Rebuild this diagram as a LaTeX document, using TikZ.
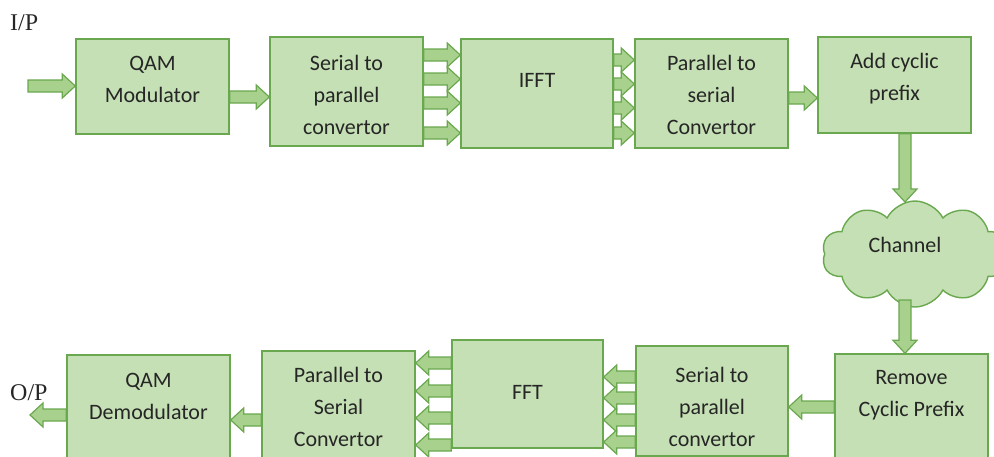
\documentclass[tikz,border=0pt]{standalone}
\usepackage{fontspec}
\setmainfont{Carlito}
\newfontfamily\iofont{Liberation Serif}
\usetikzlibrary{calc,shapes.symbols}
\definecolor{boxfill}{HTML}{C5E0B4}
\definecolor{boxline}{HTML}{6AA84F}
\definecolor{arrfill}{HTML}{A9D18E}
\definecolor{arrline}{HTML}{6AA84F}
\tikzset{
  blk/.style={draw=boxline, fill=boxfill, line width=1.4pt, inner sep=0pt},
  lbl/.style={font=\fontsize{22}{32}\selectfont, align=center, text=black!85, inner sep=0pt},
  iolbl/.style={font=\iofont\fontsize{24}{26}\selectfont, text=black!85, inner sep=0pt, anchor=base west},
  arr/.style={draw=arrline, fill=arrfill, line width=1.2pt, line join=miter},
}
% block arrow from #1 to #2: shaft 12pt wide, head 24pt wide, 13pt long
\newcommand\blockarrow[2]{%
  \path (#1) coordinate (bS) (#2) coordinate (bE);
  \path ($(bE)!13pt!(bS)$) coordinate (bH);
  \draw[arr] ($(bS)!6pt!90:(bE)$) -- ($(bH)!6pt!90:(bE)$) -- ($(bH)!12pt!90:(bE)$)
    -- (bE) -- ($(bH)!12pt!-90:(bE)$) -- ($(bH)!6pt!-90:(bE)$) -- ($(bS)!6pt!-90:(bE)$) -- cycle;}
\begin{document}
\begin{tikzpicture}[x=1pt, y=-1pt]
\useasboundingbox (0,0) rectangle (994,456);
\clip (0,0) rectangle (994,456);

% transmitter chain
\node[blk, minimum width=153pt, minimum height=95pt]  (qam)  at (152.5,86.5) {};
\node[blk, minimum width=153pt, minimum height=109pt] (s2p)  at (346.5,91.5) {};
\node[blk, minimum width=152pt, minimum height=109pt] (ifft) at (537,93.5) {};
\node[blk, minimum width=153pt, minimum height=109pt] (p2s)  at (711.5,93.5) {};
\node[blk, minimum width=153pt, minimum height=96pt]  (acp)  at (894.5,85) {};

% channel
\node[cloud, draw=boxline, fill=boxfill, line width=1.4pt, cloud puffs=10, cloud puff arc=125,
      aspect=1.7, minimum width=186pt, minimum height=106pt, inner sep=0pt] (chan) at (915,254) {};

% receiver chain
\node[blk, minimum width=153pt, minimum height=110pt] (rcp)  at (911.5,409) {};
\node[blk, minimum width=152pt, minimum height=110pt] (s2pb) at (712,401) {};
\node[blk, minimum width=151pt, minimum height=108pt] (fft)  at (527.5,394) {};
\node[blk, minimum width=153pt, minimum height=110pt] (p2sb) at (338.5,406) {};
\node[blk, minimum width=163pt, minimum height=110pt] (dem)  at (148.5,410) {};

% labels
\node[lbl] (tqam)  at (152.5,79) {QAM\\Modulator};
\node[lbl] (ts2p)  at (346.5,95) {Serial to\\parallel\\convertor};
\node[lbl] (tifft) at (537,80) {IFFT};
\node[lbl] (tp2s)  at (711.5,95) {Parallel to\\serial\\Convertor};
\node[lbl] (tacp)  at (894.5,79) {Add cyclic\\prefix};
\node[lbl] (tchan) at (905,245) {Channel};
\node[lbl] (trcp)  at (911.5,395) {Remove\\Cyclic Prefix};
\node[lbl] (ts2pb) at (712,407) {Serial to\\parallel\\convertor};
\node[lbl] (tfft)  at (527.5,392) {FFT};
\node[lbl] (tp2sb) at (338.5,407) {Parallel to\\Serial\\Convertor};
\node[lbl] (tdem)  at (148.5,396) {QAM\\Demodulator};
\node[iolbl] (tin)  at (10,30) {I/P};
\node[iolbl] (tout) at (10,400) {O/P};

\coordinate (inp) at (28,86);
\coordinate (outp) at (30,415);

% transmitter connectors
\blockarrow{inp}{qam.west |- inp}
\blockarrow{qam.east |- 0,97}{s2p.west |- 0,97}
\foreach \y in {55,79,103,133} {\blockarrow{s2p.east |- 0,\y}{ifft.west |- 0,\y}}
\foreach \y in {60,84,108,133} {\blockarrow{ifft.east |- 0,\y}{p2s.west |- 0,\y}}
\blockarrow{p2s.east |- 0,98}{acp.west |- 0,98}
\blockarrow{acp.south -| 905,0}{905,202}
\blockarrow{905,300}{rcp.north -| 905,0}

% receiver connectors
\blockarrow{rcp.west |- 0,407}{s2pb.east |- 0,407}
\foreach \y in {377,398,420,442} {\blockarrow{s2pb.west |- 0,\y}{fft.east |- 0,\y}}
\foreach \y in {363,391,418,445} {\blockarrow{fft.west |- 0,\y}{p2sb.east |- 0,\y}}
\blockarrow{p2sb.west |- 0,420}{dem.east |- 0,420}
\blockarrow{dem.west |- outp}{outp}
\end{tikzpicture}
\end{document}
